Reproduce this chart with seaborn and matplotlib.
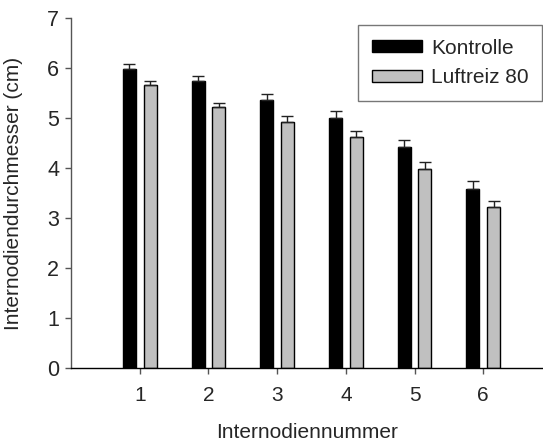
import matplotlib
matplotlib.use("Agg")
import matplotlib.pyplot as plt
import seaborn as sns
import pandas as pd
import numpy as np

internodes = ["1", "2", "3", "4", "5", "6"]
groups = ["Kontrolle", "Luftreiz 80"]
kontrolle = [5.99, 5.74, 5.36, 5.00, 4.43, 3.59]
kontrolle_err = [0.10, 0.10, 0.12, 0.14, 0.13, 0.15]
luftreiz = [5.67, 5.22, 4.93, 4.61, 3.98, 3.23]
luftreiz_err = [0.08, 0.09, 0.11, 0.12, 0.13, 0.12]
y_ticks = [0, 1, 2, 3, 4, 5, 6, 7]

df = pd.DataFrame({
    "Internode": internodes * 2,
    "Gruppe": [groups[0]] * len(internodes) + [groups[1]] * len(internodes),
    "Wert": kontrolle + luftreiz,
    "Fehler": kontrolle_err + luftreiz_err,
})

sns.set_style("white")
plt.rcParams["font.family"] = ["Liberation Sans", "DejaVu Sans"]

fig = plt.figure(figsize=(5.43, 4.41), dpi=100)
ax = fig.add_axes([71 / 543, 1 - 368 / 441, (543 - 71) / 543, (368 - 18) / 441])

palette = {groups[0]: "#000000", groups[1]: "#c0c0c0"}
sns.barplot(data=df, x="Internode", y="Wert", hue="Gruppe", order=internodes,
            hue_order=groups, palette=palette, width=0.6, gap=0.37,
            errorbar=None, edgecolor="#000000", linewidth=1.0, ax=ax,
            saturation=1)

# error bars (upward only), positioned on the drawn bars
bars = [p for p in ax.patches if p.get_height() > 0]
for p in bars:
    xc = p.get_x() + p.get_width() / 2
    h = p.get_height()
    idx = np.argmin(np.abs(df["Wert"].values - h))
    err = df["Fehler"].values[idx]
    ax.errorbar(xc, h, yerr=[[0], [err]], fmt="none", ecolor="#222222",
                elinewidth=1.0, capsize=4.2, capthick=1.0, zorder=3)

ax.set_xlim(-1, 5.87)
ax.set_ylim(0, 7)
ax.set_yticks(y_ticks)
ax.set_xticks(range(len(internodes)))
ax.set_xticklabels(internodes)

ax.set_xlabel("Internodiennummer", fontsize=15, labelpad=13)
ax.set_ylabel("Internodiendurchmesser (cm)", fontsize=15, labelpad=17)

for s in ["top", "right"]:
    ax.spines[s].set_visible(False)
ax.spines["left"].set_color("#555555")
ax.spines["left"].set_linewidth(1.0)
ax.spines["bottom"].set_color("#000000")
ax.spines["bottom"].set_linewidth(1.0)

ax.tick_params(axis="y", direction="out", length=4.5, width=1.0, color="#555555",
               labelsize=15.5, pad=4, left=True)
ax.tick_params(axis="x", direction="out", length=4, width=1.0, color="#555555",
               labelsize=15, pad=9, bottom=True)

leg = ax.legend(loc="upper right", bbox_to_anchor=(0.998, 0.98), fontsize=15,
                frameon=True, fancybox=False, edgecolor="#555555",
                handlelength=2.4, handleheight=0.5, handletextpad=0.45,
                borderpad=0.65, labelspacing=0.5, borderaxespad=0, title=None)
leg.get_frame().set_linewidth(1.0)

fig.savefig("out.png", dpi=100)
